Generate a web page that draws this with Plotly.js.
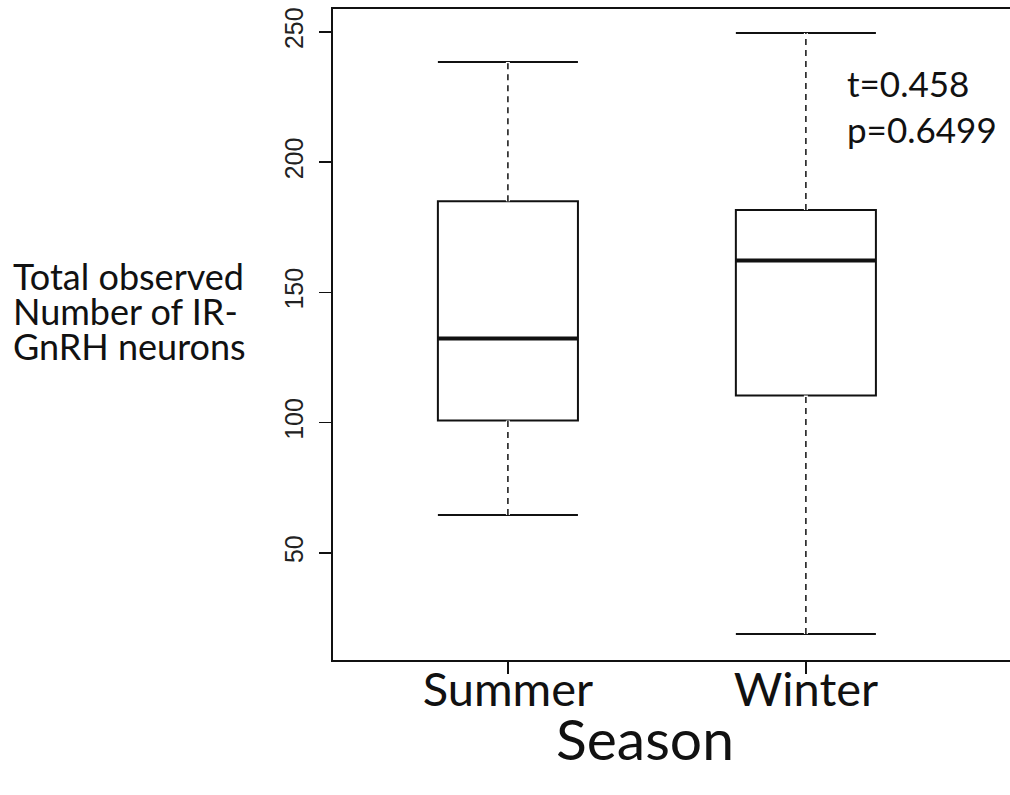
<!DOCTYPE html>
<html>
<head>
<meta charset="utf-8">
<script src="https://cdn.plot.ly/plotly-3.0.1.min.js"></script>
<style>
html,body{margin:0;padding:0;background:#fff;}
</style>
</head>
<body>
<div id="chart" style="width:1010px;height:795px;"></div>
<script>
// Data
const seasons = ["Summer", "Winter"];
const seasonPos = [0, 1];
const lowerWhisker = [64.6, 18.9];
const q1 = [100.8, 110.4];
const median = [132.3, 162.3];
const q3 = [185.0, 181.6];
const upperWhisker = [238.5, 249.6];
const yTicks = [50, 100, 150, 200, 250];
const statText = ["t=0.458", "p=0.6499"];
const yTitleLines = ["Total observed", "Number of IR-", "GnRH neurons"];
const xTitle = "Season";

const boxWidth = 0.47;
const halfW = boxWidth / 2;

const traces = [];
seasons.forEach((s, i) => {
  traces.push({
    type: "box",
    name: s,
    x: [seasonPos[i]],
    q1: [q1[i]], median: [median[i]], q3: [q3[i]],
    lowerfence: [lowerWhisker[i]], upperfence: [upperWhisker[i]],
    width: boxWidth,
    whiskerwidth: 1,
    boxpoints: false,
    fillcolor: "#ffffff",
    line: {color: "#111111", width: 2},
    hoverinfo: "skip",
    showlegend: false
  });
});
seasons.forEach((s, i) => {
  const x = seasonPos[i];
  [[q3[i], upperWhisker[i]], [lowerWhisker[i], q1[i]]].forEach(seg => {
    traces.push({
      type: "scatter", mode: "lines",
      x: [x, x], y: seg,
      line: {color: "#ffffff", width: 4},
      hoverinfo: "skip", showlegend: false
    });
    traces.push({
      type: "scatter", mode: "lines",
      x: [x, x], y: seg,
      line: {color: "#111111", width: 1.5, dash: "6px,5px"},
      hoverinfo: "skip", showlegend: false
    });
  });
  traces.push({
    type: "scatter", mode: "lines",
    x: [x - halfW, x + halfW], y: [median[i], median[i]],
    line: {color: "#111111", width: 4},
    hoverinfo: "skip", showlegend: false
  });
});

const annotations = [];
// y title (single multi-line text; line spacing tightened after render)
annotations.push({
  text: yTitleLines.join("<br>"), xref: "paper", yref: "paper",
  x: (11 - 333) / 677, y: 1 - (252 - 9) / 651,
  xanchor: "left", yanchor: "top", align: "left", showarrow: false,
  font: {family: "Lato", size: 36, color: "#111"}
});
annotations.push({
  text: statText.join("<br>"), xref: "paper", yref: "paper",
  x: (845 - 333) / 677, y: 1 - (60 - 9) / 651,
  xanchor: "left", yanchor: "top", align: "left", showarrow: false,
  font: {family: "Lato", size: 35, color: "#111"}
});
annotations.push({
  text: xTitle, xref: "paper", yref: "paper",
  x: (645 - 333) / 677, y: 1 - (702 - 9) / 651,
  xanchor: "center", yanchor: "top", showarrow: false,
  font: {family: "Lato", size: 57, color: "#111"}
});

const layout = {
  width: 1010, height: 795,
  margin: {l: 333, r: 0, t: 9, b: 135},
  paper_bgcolor: "#ffffff", plot_bgcolor: "#ffffff",
  showlegend: false,
  xaxis: {
    range: [-0.587, 1.685],
    tickvals: seasonPos, ticktext: seasons,
    showline: true, linecolor: "#111", linewidth: 2, mirror: true,
    ticks: "outside", ticklen: 12, tickwidth: 1.5, tickcolor: "#111",
    ticklabelstandoff: -24,
    showgrid: false, zeroline: false,
    tickfont: {family: "Lato", size: 47, color: "#111"}
  },
  yaxis: {
    range: [8.9, 258.8],
    tickvals: yTicks, ticktext: yTicks.map(String),
    showline: true, linecolor: "#111", linewidth: 2,
    ticks: "outside", ticklen: 12, tickwidth: 1.5, tickcolor: "#111",
    tickangle: -90,
    ticklabelstandoff: 6,
    showgrid: false, zeroline: false,
    tickfont: {family: "Liberation Sans", size: 25, color: "#222"}
  },
  annotations: annotations
};

Plotly.newPlot("chart", traces, layout, {displayModeBar: false, staticPlot: true}).then(() => {
  const ann = document.querySelectorAll(".annotation")[0];
  if (ann) {
    const lines = ann.querySelectorAll("tspan.line");
    lines.forEach((t, i) => { t.setAttribute("dy", (i * 0.97) + "em"); });
  }
});
</script>
</body>
</html>
